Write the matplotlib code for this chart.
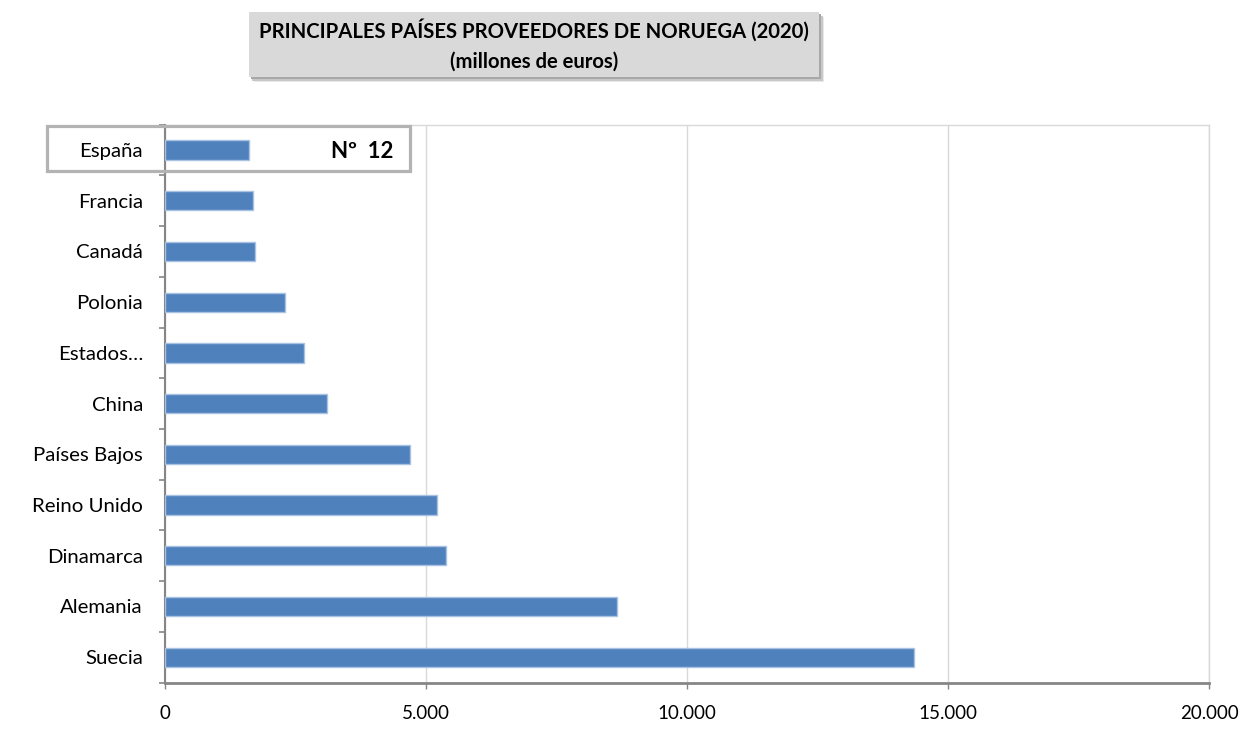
import matplotlib
matplotlib.use("Agg")
import matplotlib.pyplot as plt
from matplotlib.patches import Rectangle
from matplotlib.ticker import FuncFormatter, FixedLocator

plt.rcParams["font.family"] = ["Lato", "DejaVu Sans"]

# ----- data (millones de euros, 2020) --------------------------------------
PAISES = ["España", "Francia", "Canadá", "Polonia", "Estados…", "China",
          "Países Bajos", "Reino Unido", "Dinamarca", "Alemania", "Suecia"]
VALORES = [1603, 1686, 1731, 2308, 2654, 3107, 4693, 5205, 5390, 8652, 14349]
XTICKS = [0, 5000, 10000, 15000, 20000]
TITULO = "PRINCIPALES PAÍSES PROVEEDORES DE NORUEGA (2020)\n(millones de euros)"
RANKING = "Nº  12"

W, H = 1255, 733
fig = plt.figure(figsize=(W / 100, H / 100), dpi=100)
ax = fig.add_axes([165 / W, 1 - 682.5 / H, (1209 - 165) / W, (682.5 - 124.7) / H])

pos = list(range(len(PAISES)))
ax.barh(pos, VALORES, height=0.38, color="#4f81bd", edgecolor="#a9c2e2",
        linewidth=1, zorder=3)

ax.set_xlim(0, 20000)
ax.set_ylim(len(PAISES) - 0.5, -0.5)

# gridlines
ax.set_xticks(XTICKS)
ax.xaxis.set_major_formatter(FuncFormatter(lambda v, p: f"{int(v):,}".replace(",", ".")))
ax.grid(axis="x", color="#d9d9d9", linewidth=1, zorder=0)
ax.tick_params(axis="x", direction="out", length=4, width=1, color="#868686",
               labelsize=13.5, pad=12, labelcolor="black")

ax.set_yticks(pos)
ax.set_yticklabels(PAISES)
ax.yaxis.set_minor_locator(FixedLocator([p - 0.5 for p in pos] + [len(pos) - 0.5]))
ax.tick_params(axis="y", which="major", length=0, labelsize=14.7, pad=15.8)
ax.tick_params(axis="y", which="minor", direction="out", length=4.5, width=1.2,
               color="#868686")

for side in ["top", "right"]:
    ax.spines[side].set_color("#d9d9d9")
    ax.spines[side].set_linewidth(1)
ax.spines["left"].set_color("#868686")
ax.spines["left"].set_linewidth(1.5)
ax.spines["bottom"].set_color("#868686")
ax.spines["bottom"].set_linewidth(2)

# highlight box around España
fig.patches.append(Rectangle((47 / W, 1 - 170.5 / H), (410 - 47) / W, (170.5 - 126) / H,
                             transform=fig.transFigure, fill=False,
                             edgecolor="#b3b3b3", linewidth=2.3, zorder=5))
fig.text(393 / W, 1 - 152 / H, RANKING, ha="right", va="center",
         fontsize=16, fontweight="bold")

# title box with shadow
for i, c in enumerate(["#e8e8e8", "#c8c8c8", "#a8a8a8"]):
    off = 5 - i * 1.5
    fig.patches.append(Rectangle(((249 + off) / W, 1 - (77 + off) / H), 570 / W, 65 / H,
                                 transform=fig.transFigure, facecolor=c,
                                 edgecolor="none", zorder=1))
fig.patches.append(Rectangle((249 / W, 1 - 77 / H), 570 / W, 65 / H,
                             transform=fig.transFigure, facecolor="#d9d9d9",
                             edgecolor="none", zorder=2))
fig.text(534 / W, 1 - 45 / H, TITULO, ha="center", va="center", fontsize=14.6,
         fontweight="bold", linespacing=1.6, zorder=3)

fig.savefig("out.png", dpi=100)
